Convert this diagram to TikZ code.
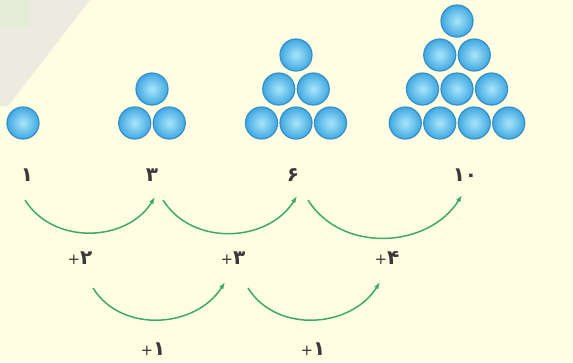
\documentclass[tikz,border=0pt]{standalone}
\usepackage{fontspec}
\newfontfamily\arabicfont[Script=Arabic]{DejaVu Sans}
\usetikzlibrary{arrows.meta}

\definecolor{paper}{HTML}{FFFEE3}
\definecolor{fold}{HTML}{ECEBDF}
\definecolor{arcgreen}{HTML}{3DAA6C}
\definecolor{ballrim}{HTML}{3690C6}
\definecolor{ballin}{HTML}{A9E6FA}
\definecolor{ballout}{HTML}{41A8E2}
\definecolor{digit}{HTML}{3A3A3A}

\newcommand*{\gap}{34.5}
\newcommand*{\base}{-123}
\newcommand*{\plus}{\hbox{\fontsize{15}{18}\selectfont\mdseries +}}

% triangle of balls: #1 = centre x, #2 = rows
\newcommand*{\balltri}[2]{%
	\foreach \r in {1,...,#2}{%
		\pgfmathtruncatemacro{\k}{#2-\r+1}
		\foreach \i in {1,...,\k}{%
			\fill[ball] ({#1+(\i-(\k+1)/2)*\gap},{\base+(\r-1)*34}) circle (16);
			\draw[ballrim,line width=1.2pt] ({#1+(\i-(\k+1)/2)*\gap},{\base+(\r-1)*34}) circle (16);
		}
	}%
}

\begin{document}
\begin{tikzpicture}
[
	x=1pt,y=1pt,
	ball/.style={inner color=ballin,outer color=ballout},
	num/.style={text=digit,inner sep=0pt,font=\arabicfont\bfseries\fontsize{20}{24}\selectfont},
	jump/.style={arcgreen,line width=1.5pt,-{Latex[length=7pt,width=5pt]},out=-58,in=-122,looseness=1.05}
]

	% paper
	\fill[paper] (0,0) rectangle (573,-362);
	\fill[fold] (0,0) -- (90,0) -- (8,-106) -- (0,-106) -- cycle;
	\fill[green!3!fold] (0,0) rectangle (30,-28);
	\useasboundingbox (0,0) rectangle (573,-362);

	% balls
	\balltri{23}{1}
	\balltri{152}{2}
	\balltri{296}{3}
	\balltri{457}{4}

	% numbers
	\node[num] (n1) at (27,-175) {۱};
	\node[num] (n3) at (152,-175) {۳};
	\node[num] (n6) at (293,-175) {۶};
	\node[num] (n10) at (465,-175) {۱۰};

	% first differences
	\coordinate (a1) at (25,-200);
	\coordinate (b1) at (155,-197);
	\coordinate (a2) at (163,-200);
	\coordinate (b2) at (297,-196);
	\coordinate (a3) at (308,-200);
	\coordinate (b3) at (462,-195);
	\draw[jump] (a1) to (b1);
	\draw[jump] (a2) to (b2);
	\draw[jump] (a3) to (b3);
	\node[num] (p2) at (80,-258) {\plus۲};
	\node[num] (p3) at (233,-258) {\plus۳};
	\node[num] (p4) at (387,-258) {\plus۴};

	% second differences
	\coordinate (c1) at (93,-288);
	\coordinate (d1) at (225,-282);
	\coordinate (c2) at (248,-288);
	\coordinate (d2) at (380,-282);
	\draw[jump] (c1) to (d1);
	\draw[jump] (c2) to (d2);
	\node[num] (q1) at (153,-349) {\plus۱};
	\node[num] (q2) at (313,-349) {\plus۱};

\end{tikzpicture}
\end{document}
